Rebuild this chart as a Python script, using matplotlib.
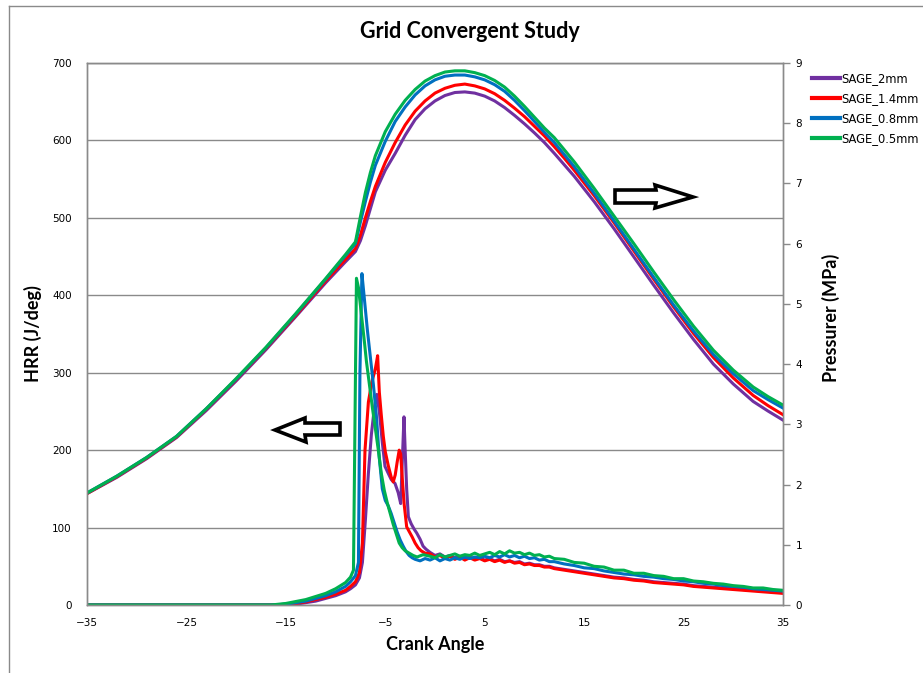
import matplotlib.pyplot as plt
from matplotlib.patches import Polygon
from matplotlib.lines import Line2D

labels = ["SAGE_2mm", "SAGE_1.4mm", "SAGE_0.8mm", "SAGE_0.5mm"]
colors = ["#7030A0", "#FF0000", "#0070C0", "#00B050"]

# cylinder pressure (MPa) vs crank angle
ca_p = [-35, -32, -29, -26, -23, -20, -17, -14, -11, -9, -8, -7.5, -7, -6.5, -6, -5, -4, -3, -2, -1,
        0, 1, 2, 3, 4, 5, 6, 7, 8, 9, 10, 11, 12, 13, 14, 16, 18, 20, 22, 24, 26, 28, 30, 32, 33.5, 35]
p_2mm = [1.85, 2.12, 2.43, 2.78, 3.23, 3.72, 4.24, 4.79, 5.35, 5.70,
         5.87, 6.05, 6.30, 6.58, 6.86, 7.22, 7.50, 7.80, 8.06, 8.24,
         8.37, 8.46, 8.51, 8.52, 8.50, 8.45, 8.37, 8.26, 8.13, 7.99,
         7.84, 7.68, 7.50, 7.31, 7.12, 6.70, 6.25, 5.78, 5.31, 4.85,
         4.41, 4.00, 3.67, 3.38, 3.22, 3.07]
p_14mm = [1.85, 2.13, 2.44, 2.79, 3.25, 3.74, 4.26, 4.81, 5.38, 5.74,
          5.92, 6.14, 6.43, 6.70, 6.95, 7.35, 7.68, 7.97, 8.20, 8.37,
          8.50, 8.58, 8.63, 8.65, 8.62, 8.57, 8.49, 8.38, 8.25, 8.11,
          7.95, 7.79, 7.61, 7.42, 7.22, 6.80, 6.35, 5.88, 5.41, 4.95,
          4.51, 4.11, 3.77, 3.48, 3.31, 3.16]
p_08mm = [1.86, 2.14, 2.45, 2.80, 3.26, 3.75, 4.27, 4.83, 5.41, 5.80,
          6.00, 6.36, 6.70, 7.02, 7.30, 7.70, 8.03, 8.27, 8.47, 8.62,
          8.72, 8.78, 8.80, 8.80, 8.77, 8.72, 8.64, 8.53, 8.38, 8.21,
          8.03, 7.85, 7.68, 7.48, 7.28, 6.84, 6.38, 5.91, 5.44, 4.98,
          4.55, 4.16, 3.84, 3.56, 3.41, 3.27]
p_05mm = [1.86, 2.14, 2.45, 2.80, 3.26, 3.76, 4.28, 4.84, 5.42, 5.82,
          6.03, 6.45, 6.85, 7.18, 7.46, 7.86, 8.15, 8.38, 8.56, 8.70,
          8.79, 8.85, 8.87, 8.87, 8.84, 8.79, 8.71, 8.60, 8.45, 8.28,
          8.10, 7.92, 7.76, 7.56, 7.36, 6.92, 6.46, 6.00, 5.53, 5.07,
          4.63, 4.23, 3.90, 3.62, 3.46, 3.32]

# heat release rate (J/deg): ignition part per case, then a common late-combustion tail
ca_h_2mm = [-35, -15.5, -14, -12, -10, -9, -8.5, -8.0, -7.6, -7.3, -7.0, -6.7, -6.4, -6.1, -5.85, -5.6,
            -5.3, -5.03, -4.7, -4.4, -4.02, -3.7, -3.45, -3.12, -3.0, -2.85, -2.68, -2.4, -2.1, -1.84,
            -1.5, -1.2, -0.9]
hrr_h_2mm = [0, 0, 1, 5, 12, 17, 21, 26, 35, 55, 110, 170, 220, 255, 272, 250,
             210, 179, 170, 162, 157, 145, 131, 243, 200, 150, 114, 105, 98, 93,
             85, 76, 72]
ca_h_14mm = [-35, -16, -14.5, -13, -11, -10, -9, -8.5, -8.0, -7.6, -7.3, -7.04, -6.7, -6.37, -6.0,
             -5.77, -5.6, -5.4, -5.2, -5.0, -4.7, -4.4, -4.2, -4.0, -3.8, -3.6, -3.45, -3.3, -3.1,
             -2.85, -2.6, -2.3, -2.0, -1.7, -1.4, -1.0]
hrr_h_14mm = [0, 0, 1, 4, 10, 14, 19, 24, 30, 42, 80, 200, 262, 287, 305,
              322, 275, 245, 218, 198, 180, 165, 159, 168, 185, 200, 195, 165, 130,
              101, 95, 88, 80, 74, 70, 67]
ca_h_08mm = [-35, -16, -14.5, -13, -11, -10, -9, -8.5, -8.0, -7.7, -7.55, -7.35, -7.1, -6.8, -6.5,
             -6.2, -5.9, -5.6, -5.3, -5.0, -4.7, -4.4, -4.1, -3.8, -3.5, -3.2, -2.9, -2.6, -2.3,
             -2.0, -1.5, -1.0]
hrr_h_08mm = [0, 0, 2, 5, 12, 17, 24, 30, 38, 55, 300, 428, 395, 355, 320,
              285, 245, 190, 150, 135, 128, 118, 106, 94, 84, 76, 69, 64, 61,
              59, 57, 60]
ca_h_05mm = [-35, -16.5, -15, -13, -11, -10, -9, -8.5, -8.2, -7.9, -7.7, -7.4, -7.1, -6.9, -6.6,
             -6.3, -6.0, -5.7, -5.4, -5.1, -4.8, -4.5, -4.2, -3.9, -3.6, -3.3, -3.0, -2.6, -2.2,
             -1.8, -1.2]
hrr_h_05mm = [0, 0, 2, 7, 15, 21, 29, 36, 45, 422, 410, 375, 340, 315, 285,
              255, 228, 200, 170, 148, 132, 118, 104, 92, 80, 74, 70, 67, 64,
              62, 65]

ca_tail = [-0.5, 0, 0.5, 1, 1.5, 2, 2.5, 3, 3.5, 4, 4.5, 5, 5.5, 6, 6.5, 7, 7.5, 8, 8.5, 9,
           9.5, 10, 10.5, 11, 11.5, 12, 13, 14, 15, 16, 17, 18, 19, 20, 21, 22, 23, 24, 25,
           26, 27, 28, 29, 30, 31, 32, 33, 34, 35]
tail_2mm = [68, 64, 66, 62, 64, 61, 63, 60, 62, 59, 61, 58, 60, 57, 59, 56, 57, 55, 56, 53,
            54, 52, 52, 50, 50, 48, 46, 44, 42, 40, 38, 36, 35, 33, 32, 30, 29, 28, 27,
            25, 24, 23, 22, 21, 20, 19, 18, 17, 16]
tail_14mm = [66, 62, 64, 60, 63, 59, 62, 58, 61, 58, 60, 57, 59, 56, 58, 55, 57, 54, 55, 52,
             53, 51, 51, 49, 49, 47, 45, 43, 41, 39, 37, 35, 34, 32, 31, 29, 28, 27, 26,
             24, 23, 22, 21, 20, 19, 18, 17, 16, 15]
tail_08mm = [58, 61, 57, 60, 58, 61, 59, 62, 60, 62, 61, 63, 61, 64, 62, 65, 62, 64, 61, 63,
             60, 61, 58, 59, 56, 56, 53, 51, 48, 47, 44, 42, 40, 39, 37, 36, 34, 33, 31,
             30, 28, 27, 25, 24, 23, 21, 20, 19, 18]
tail_05mm = [63, 61, 65, 62, 64, 66, 63, 65, 64, 67, 64, 66, 68, 65, 69, 66, 70, 67, 68, 65,
             67, 64, 65, 62, 63, 60, 59, 55, 54, 50, 49, 45, 45, 41, 41, 38, 37, 34, 34,
             31, 30, 28, 27, 25, 24, 22, 22, 20, 19]

hrr_ca = [ca_h_2mm + ca_tail, ca_h_14mm + ca_tail, ca_h_08mm + ca_tail, ca_h_05mm + ca_tail]
hrr = [hrr_h_2mm + tail_2mm, hrr_h_14mm + tail_14mm, hrr_h_08mm + tail_08mm, hrr_h_05mm + tail_05mm]
pres = [p_2mm, p_14mm, p_08mm, p_05mm]

W, H = 923, 673
fig = plt.figure(figsize=(W / 100, H / 100), dpi=100)
ax = fig.add_axes([87 / W, 1 - 605 / H, 696 / W, 542 / H])
ax2 = ax.twinx()

grey = "#8a8a8a"
lw = 2.2
for x, y, c in zip(hrr_ca, hrr, colors):
    ax.plot(x, y, color=c, lw=lw)
for y, c in zip(pres, colors):
    ax2.plot(ca_p, y, color=c, lw=lw)

ax.set_xlim(-35, 35)
ax.set_ylim(0, 700)
ax2.set_ylim(0, 9)
ax.set_xticks(range(-35, 36, 10))
ax.set_yticks(range(0, 701, 100))
ax2.set_yticks(range(0, 10))

ax.yaxis.grid(True, color=grey, lw=1)
ax.set_axisbelow(True)
for a in (ax, ax2):
    for s in a.spines.values():
        s.set_color(grey)
        s.set_linewidth(1)

ax.tick_params(axis="x", length=0, pad=9, labelsize=7.5)
ax.tick_params(axis="y", length=0, pad=11, labelsize=7.5)
ax2.tick_params(axis="y", length=5, width=1, color=grey, pad=4, labelsize=7.5)

lab_font = dict(family="Lato", weight="bold", size=13)
ax.set_xlabel("Crank Angle", fontdict=lab_font, labelpad=6)
ax.set_ylabel("HRR (J/deg)", fontdict=lab_font)
ax.yaxis.set_label_coords(-0.065, 0.5)
ax2.set_ylabel("Pressurer (MPa)", fontdict=lab_font, rotation=90)
ax2.yaxis.set_label_coords(1.056, 0.53)

fig.text(470 / W, 1 - 32 / H, "Grid Convergent Study", ha="center", va="center",
         family="Lato", weight="bold", size=15.5)

handles = [Line2D([], [], color=c, lw=3) for c in colors]
fig.legend(handles, labels, loc="upper left", bbox_to_anchor=(812 / W, 1 - 72 / H),
           frameon=False, fontsize=8.3, handlelength=2.4, handletextpad=0.1,
           labelspacing=0.6, borderpad=0, borderaxespad=0)

# direction arrows: left one points to the HRR axis, right one to the pressure axis
def px(pts):
    return [(x / W, 1 - y / H) for x, y in pts]

right_arrow = px([(615, 190), (656, 190), (655, 185), (693, 197), (655, 208), (656, 203), (615, 203)])
left_arrow = px([(340, 423), (305, 423), (305, 418), (275, 430), (306, 442), (305, 435), (340, 435)])
for pts in (right_arrow, left_arrow):
    fig.patches.append(Polygon(pts, closed=True, transform=fig.transFigure, facecolor="white",
                               edgecolor="black", lw=2.6, joinstyle="miter"))

# chart area border
fig.add_artist(Line2D([9 / W, 9 / W], [1 - 6 / H, 0], color=grey, lw=1, transform=fig.transFigure))
fig.add_artist(Line2D([9 / W, 1], [1 - 6 / H, 1 - 6 / H], color=grey, lw=1, transform=fig.transFigure))

fig.savefig("out.png", dpi=100)
